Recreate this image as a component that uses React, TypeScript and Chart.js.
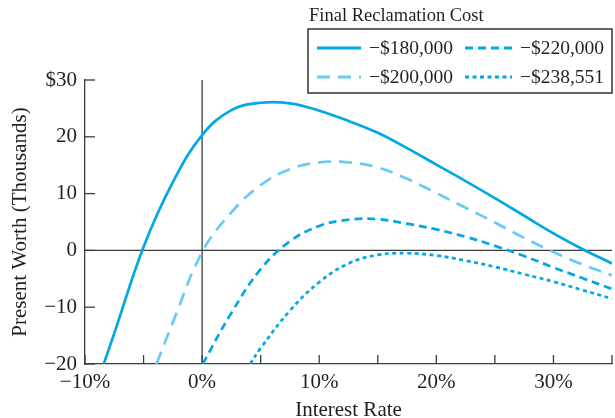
import React, { useEffect, useRef } from "react";
import { Chart, registerables } from "chart.js";

Chart.register(...registerables);

// ---- Data (interest rate %, present worth in $ thousands) ----
const seriesLabels = ["−$180,000", "−$200,000", "−$220,000", "−$238,551"];

const rate180 = [-8.4, -7.5, -5, -2.5, 0, 2.5, 5, 7.5, 10, 12.5, 15, 17.5, 20, 22.5, 25, 27.5, 30, 32.5, 35];
const pw180 = [-20, -14.6, 0.6, 12.0, 20.3, 24.7, 26.0, 25.9, 24.6, 22.8, 20.7, 18.0, 15.1, 12.2, 9.2, 6.1, 3.0, 0.2, -2.3];

const rate200 = [-3.9, -2.5, 0, 2.5, 5, 7.5, 10, 12.5, 15, 17.5, 20, 22.5, 25, 27.5, 30, 32.5, 35];
const pw200 = [-20, -12.7, -0.3, 6.7, 11.5, 14.3, 15.5, 15.5, 14.6, 12.6, 10.1, 7.5, 4.9, 2.2, -0.3, -2.5, -4.4];

const rate220 = [0.05, 2.5, 5, 7.5, 10, 12.5, 15, 17.5, 20, 22.5, 25, 27.5, 30, 32.5, 35];
const pw220 = [-20, -11.0, -3.3, 1.6, 4.3, 5.4, 5.5, 4.7, 3.7, 2.4, 0.8, -1.0, -3.0, -4.9, -6.8];

const rate238 = [4.1, 5, 7.5, 10, 12.5, 15, 17.5, 20, 22.5, 25, 27.5, 30, 32.5, 35];
const pw238 = [-20, -17.2, -10.6, -5.6, -2.3, -0.8, -0.5, -0.9, -1.8, -2.9, -4.2, -5.5, -7.0, -8.5];

const xTickValues = [-10, -5, 0, 5, 10, 15, 20, 25, 30, 35];
const yTickValues = [-20, -10, 0, 10, 20, 30];

const legendTitle = "Final Reclamation Cost";
const xTitle = "Interest Rate";
const yTitle = "Present Worth (Thousands)";

const SERIF = "'Liberation Serif', 'Times New Roman', serif";
const INK = "#231f20";
const AXIS = "#3c3c3c";
const BLUE = "rgb(0,168,228)";
const LIGHT = "rgb(104,204,242)";

const pts = (xs: number[], ys: number[]) => xs.map((x, i) => ({ x, y: ys[i] }));
const minus = (v: number) => (v < 0 ? "−" + Math.abs(v) : String(v));

const styles = [
  { color: BLUE, dash: [] as number[] },
  { color: LIGHT, dash: [13, 8] },
  { color: BLUE, dash: [8, 5] },
  { color: BLUE, dash: [4, 3.5] },
];

const decorPlugin = {
  id: "decor",
  beforeDatasetsDraw(chart: any) {
    const { ctx, chartArea, scales } = chart;
    const x = scales.x;
    const y = scales.y;
    ctx.save();
    ctx.strokeStyle = AXIS;
    ctx.lineWidth = 1.3;
    const line = (a: number, b: number, c: number, d: number) => {
      ctx.beginPath();
      ctx.moveTo(a, b);
      ctx.lineTo(c, d);
      ctx.stroke();
    };
    const y0 = y.getPixelForValue(0);
    line(chartArea.left, y0, chartArea.right, y0);
    const x0 = x.getPixelForValue(0);
    line(x0, chartArea.top, x0, chartArea.bottom);
    x.ticks.forEach((t: any) => {
      const px = x.getPixelForValue(t.value);
      line(px, chartArea.bottom, px, chartArea.bottom - 9);
    });
    y.ticks.forEach((t: any) => {
      const py = y.getPixelForValue(t.value);
      line(chartArea.left, py, chartArea.left + 10, py);
    });
    ctx.restore();
  },
  afterDraw(chart: any) {
    const { ctx, chartArea } = chart;
    const right = chartArea.right;
    const boxW = 304;
    const boxL = right - boxW;
    const boxT = 29;
    const boxH = 64;
    ctx.save();
    ctx.fillStyle = INK;
    ctx.font = `18.5px ${SERIF}`;
    ctx.textBaseline = "middle";
    ctx.textAlign = "left";
    ctx.fillText(legendTitle, boxL + 1, 16);
    ctx.fillStyle = "#fff";
    ctx.fillRect(boxL, boxT, boxW, boxH);
    ctx.strokeStyle = "#333";
    ctx.lineWidth = 1.5;
    ctx.strokeRect(boxL, boxT, boxW, boxH);
    const order = [0, 2, 1, 3];
    order.forEach((di, k) => {
      const col = k % 2;
      const row = Math.floor(k / 2);
      const ly = boxT + 19 + row * 29;
      const lx0 = col === 0 ? boxL + 9 : boxL + 157;
      const lx1 = col === 0 ? boxL + 53 : boxL + 204;
      const tx = col === 0 ? boxL + 61 : boxL + 212;
      const ds = chart.data.datasets[di];
      ctx.strokeStyle = ds.borderColor;
      ctx.lineWidth = 3;
      ctx.setLineDash(ds.borderDash || []);
      ctx.beginPath();
      ctx.moveTo(lx0, ly);
      ctx.lineTo(lx1, ly);
      ctx.stroke();
      ctx.setLineDash([]);
      ctx.fillStyle = INK;
      ctx.font = `19.5px ${SERIF}`;
      ctx.fillText(ds.label, tx, ly + 1);
    });
    ctx.restore();
  },
};

export default function App() {
  const ref = useRef<HTMLCanvasElement | null>(null);

  useEffect(() => {
    document.body.style.margin = "0";
    if (!ref.current) return;
    const series = [pts(rate180, pw180), pts(rate200, pw200), pts(rate220, pw220), pts(rate238, pw238)];
    const chart = new Chart(ref.current, {
      type: "line",
      data: {
        datasets: series.map((data, i) => ({
          label: seriesLabels[i],
          data,
          borderColor: styles[i].color,
          borderDash: styles[i].dash,
          borderWidth: 2.7,
          pointRadius: 0,
          fill: false,
          tension: 0.4,
        })),
      },
      options: {
        animation: false,
        responsive: true,
        maintainAspectRatio: false,
        layout: { padding: { top: 80, right: 3, left: 0, bottom: 0 } },
        plugins: { legend: { display: false }, tooltip: { enabled: false } },
        scales: {
          x: {
            type: "linear",
            min: -10,
            max: 35,
            afterFit: (s: any) => {
              s.height = 54;
              s.paddingLeft = 0;
              s.paddingRight = 0;
            },
            afterBuildTicks: (s: any) => {
              s.ticks = xTickValues.map((v) => ({ value: v }));
            },
            ticks: {
              autoSkip: false,
              maxRotation: 0,
              padding: 6,
              color: INK,
              font: { family: SERIF, size: 21 },
              callback: (v: any) => (Number(v) % 10 === 0 ? minus(Number(v)) + "%" : ""),
            },
            grid: { display: false, drawTicks: false },
            border: { display: true, color: AXIS, width: 1.3 },
            title: {
              display: true,
              text: xTitle,
              color: INK,
              font: { family: SERIF, size: 21, lineHeight: 1 },
              padding: { top: 0, bottom: -3 },
            },
          },
          y: {
            type: "linear",
            min: -20,
            max: 30,
            afterFit: (s: any) => {
              s.width = 85;
              s.paddingTop = 0;
              s.paddingBottom = 0;
            },
            afterBuildTicks: (s: any) => {
              s.ticks = yTickValues.map((v) => ({ value: v }));
            },
            ticks: {
              padding: 8,
              color: INK,
              font: { family: SERIF, size: 21 },
              callback: (v: any) => (Number(v) === 30 ? "$30" : minus(Number(v))),
            },
            grid: { display: false, drawTicks: false },
            border: { display: true, color: AXIS, width: 1.3 },
            title: {
              display: true,
              text: yTitle,
              color: INK,
              font: { family: SERIF, size: 21, lineHeight: 1 },
              padding: { top: 10, bottom: 0 },
            },
          },
        },
      },
      plugins: [decorPlugin],
    });
    return () => chart.destroy();
  }, []);

  return (
    <div style={{ position: "absolute", left: 0, top: 0, width: 615, height: 418 }}>
      <canvas ref={ref} />
    </div>
  );
}
